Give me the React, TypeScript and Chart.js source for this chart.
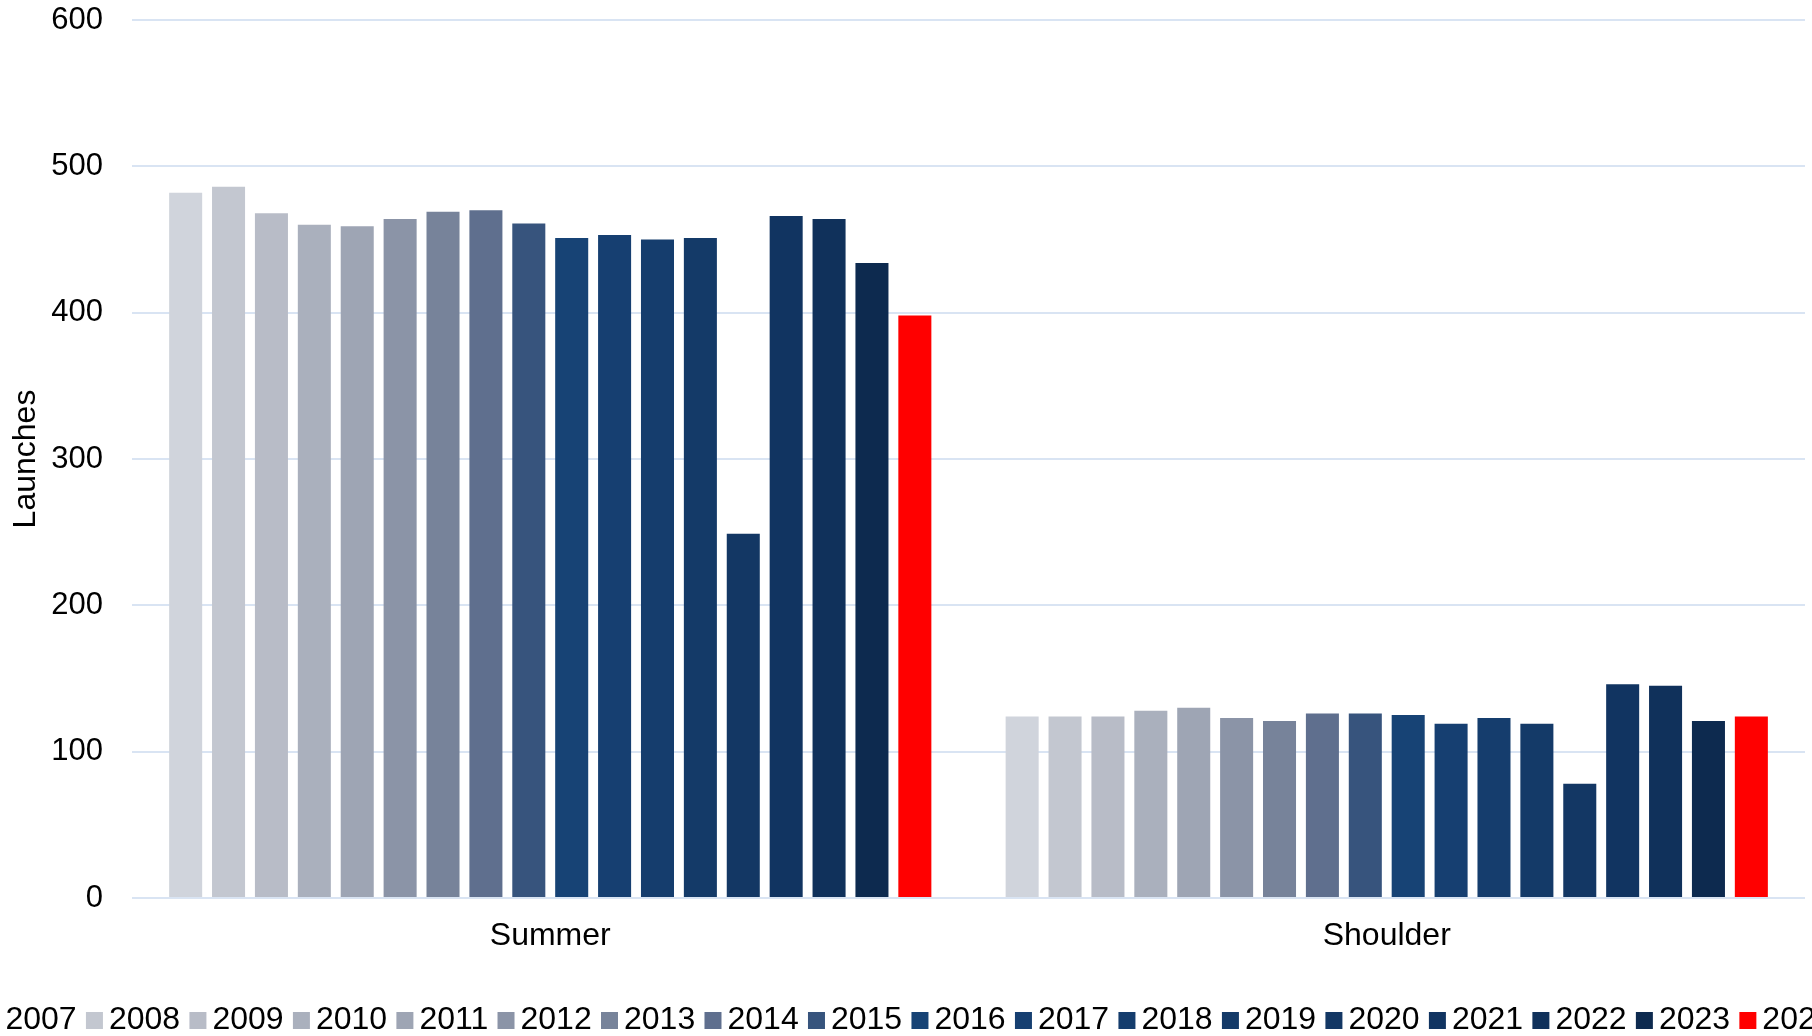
import React, { useEffect, useRef } from 'react';
import { Chart, registerables } from 'chart.js';

Chart.register(...registerables);

const categories = ['Summer', 'Shoulder'];
const years = ['2007', '2008', '2009', '2010', '2011', '2012', '2013', '2014', '2015', '2016', '2017', '2018', '2019', '2020', '2021', '2022', '2023', '2024'];
const summerValues = [482, 486, 468, 460, 459, 464, 469, 470, 461, 451, 453, 450, 451, 249, 466, 464, 434, 398];
const shoulderValues = [124, 124, 124, 128, 130, 123, 121, 126, 126, 125, 119, 123, 119, 78, 146, 145, 121, 124];
const yearColors = ['#d0d4dc', '#c3c7d0', '#b8bcc7', '#aab0bd', '#9ea5b4', '#8b94a7', '#77839a', '#5f6f8e', '#37547d', '#174375', '#163f71', '#153d6d', '#143a68', '#133764', '#113461', '#10315b', '#0d2a4f', '#ff0000'];
const axisTitle = 'Launches';

const FONT = '"Liberation Sans", Arial, sans-serif';
const GRID = '#d9e4f3';

const bottomLegend = {
  id: 'bottomLegend',
  afterDraw(chart: any) {
    const ctx = chart.ctx as CanvasRenderingContext2D;
    ctx.save();
    ctx.font = `32px ${FONT}`;
    const box = 17;
    const gap = 6;
    const spacing = 9.3;
    const items = chart.data.datasets.map((ds: any) => ({
      label: ds.label as string,
      color: ds.backgroundColor as string,
      w: ctx.measureText(ds.label).width,
    }));
    const total = items.reduce((s: number, it: any) => s + box + gap + it.w, 0) + spacing * (items.length - 1);
    let x = chart.width / 2 + 2 - total / 2;
    const baseline = 1029;
    ctx.textBaseline = 'alphabetic';
    ctx.textAlign = 'left';
    for (const it of items) {
      ctx.fillStyle = it.color;
      ctx.fillRect(x, baseline - box, box, box);
      ctx.fillStyle = '#000';
      ctx.fillText(it.label, x + box + gap, baseline);
      x += box + gap + it.w + spacing;
    }
    ctx.restore();
  },
};

export default function App() {
  const ref = useRef<HTMLCanvasElement | null>(null);

  useEffect(() => {
    document.body.style.margin = '0';
    if (!ref.current) return;
    const chart = new Chart(ref.current, {
      type: 'bar',
      data: {
        labels: categories,
        datasets: years.map((y, i) => ({
          label: y,
          data: [summerValues[i], shoulderValues[i]],
          backgroundColor: yearColors[i],
          borderWidth: 0,
          barPercentage: 0.77,
          categoryPercentage: 0.923,
        })),
      },
      options: {
        animation: false,
        responsive: true,
        maintainAspectRatio: false,
        layout: { padding: { top: 20, right: 7, bottom: 0, left: 0 } },
        plugins: {
          legend: { display: false },
          tooltip: { enabled: false },
        },
        scales: {
          x: {
            grid: { display: false },
            border: { display: false },
            ticks: {
              color: '#000',
              font: { family: FONT, size: 32 },
              padding: 11,
              maxRotation: 0,
            },
            afterFit: (scale: any) => {
              scale.height = 138;
              scale.paddingLeft = 0;
              scale.paddingRight = 0;
            },
          },
          y: {
            min: 0,
            max: 600,
            grid: { color: GRID, lineWidth: 2, drawTicks: false },
            border: { display: false },
            ticks: {
              stepSize: 100,
              color: '#000',
              font: { family: FONT, size: 31 },
              padding: 29,
            },
            title: {
              display: true,
              text: axisTitle,
              color: '#000',
              font: { family: FONT, size: 32 },
              padding: { top: 7, bottom: 0 },
            },
            afterFit: (scale: any) => {
              scale.width = 132;
              scale.paddingTop = 0;
              scale.paddingBottom = 0;
            },
          },
        },
      },
      plugins: [bottomLegend],
    });
    return () => chart.destroy();
  }, []);

  return (
    <div style={{ position: 'fixed', left: 0, top: 0, width: 1812, height: 1036, background: '#fff' }}>
      <canvas ref={ref} />
    </div>
  );
}
